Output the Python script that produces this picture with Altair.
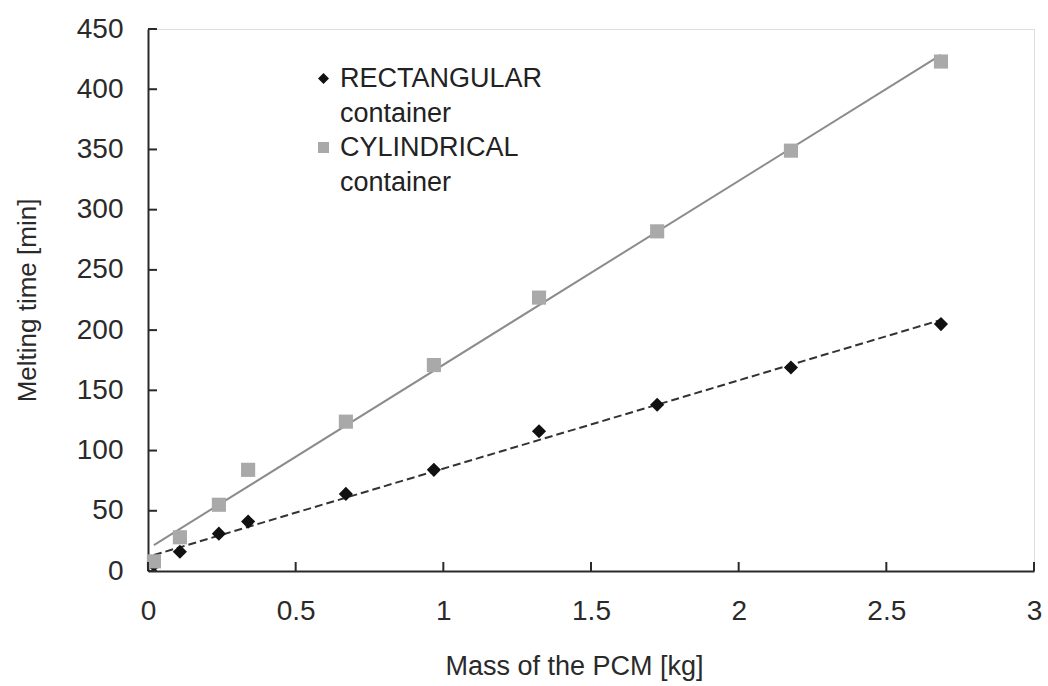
import altair as alt
import pandas as pd

# Measured melting times of the PCM for two container geometries
mass_kg = [0.02, 0.108, 0.24, 0.339, 0.67, 0.968, 1.324, 1.724, 2.177, 2.685]
rect_min = [5, 16, 31, 41, 64, 84, 116, 138, 169, 205]
cyl_min = [8, 28, 55, 84, 124, 171, 227, 282, 349, 423]
series_names = ["RECTANGULAR container", "CYLINDRICAL container"]

x_ticks = [0, 0.5, 1, 1.5, 2, 2.5, 3]
y_ticks = [0, 50, 100, 150, 200, 250, 300, 350, 400, 450]

df = pd.DataFrame({
    "mass": mass_kg + mass_kg,
    "time": rect_min + cyl_min,
    "series": [series_names[0]] * len(mass_kg) + [series_names[1]] * len(mass_kg),
})

W, H = 886, 542
INK = "#2a2a2a"

x_enc = alt.X(
    "mass:Q",
    scale=alt.Scale(domain=[0, 3], nice=False, zero=False),
    axis=alt.Axis(
        values=x_ticks, format="~g", ticks=False, grid=False,
        domainColor=INK, domainWidth=2,
        labelFont="Liberation Sans", labelFontSize=28, labelColor="#2a2a2a",
        labelPadding=26, labelFlush=False,
        title="Mass of the PCM [kg]", titleFont="Liberation Sans", titleFontSize=27,
        titleFontWeight="normal", titleColor="#2a2a2a",
        titleX=426, titleY=95, titleBaseline="middle",
    ),
)
y_enc = alt.Y(
    "time:Q",
    scale=alt.Scale(domain=[0, 450], nice=False),
    axis=alt.Axis(
        values=y_ticks, ticks=False, grid=False,
        domainColor=INK, domainWidth=2,
        labelFont="Liberation Sans", labelFontSize=28, labelColor="#2a2a2a",
        labelPadding=25,
        title="Melting time [min]", titleFont="Liberation Sans", titleFontSize=26,
        titleFontWeight="normal", titleColor="#2a2a2a",
        titleX=-121, titleY=271, titleBaseline="middle", titleAlign="center",
    ),
)

legend = alt.Legend(
    title=None, orient="none", legendX=162, legendY=36, padding=0,
    labelExpr="split(datum.label, ' ')",
    labelFont="Liberation Sans", labelFontSize=27, labelColor="#222",
    labelBaseline="middle", labelOffset=3, labelLimit=400, rowPadding=6,
    symbolOffset=0, symbolStrokeWidth=0, symbolSize=121,
)
series_order = alt.SortArray(series_names)

points = alt.Chart(df).mark_point(filled=True, size=200, opacity=1).encode(
    x=x_enc,
    y=y_enc,
    color=alt.Color("series:N", sort=series_order,
                    scale=alt.Scale(domain=series_names, range=["#111111", "#a9a9a9"]),
                    legend=legend),
    shape=alt.Shape("series:N", sort=series_order,
                    scale=alt.Scale(domain=series_names, range=["diamond", "square"]),
                    legend=legend),
)

# Least-squares trend lines for each container
trend_rect = alt.Chart(df).transform_filter(
    alt.datum.series == series_names[0]
).transform_regression("mass", "time").mark_line(
    color="#333333", strokeWidth=2, strokeDash=[8, 4]
).encode(x=x_enc, y=y_enc)

trend_cyl = alt.Chart(df).transform_filter(
    alt.datum.series == series_names[1]
).transform_regression("mass", "time").mark_line(
    color="#8c8c8c", strokeWidth=2
).encode(x=x_enc, y=y_enc)

# Inward-pointing tick marks
x_tick_marks = alt.Chart(pd.DataFrame({"mass": x_ticks})).mark_rule(
    color=INK, strokeWidth=2
).encode(x=x_enc, y=alt.value(H), y2=alt.value(H - 9))

y_tick_marks = alt.Chart(pd.DataFrame({"time": y_ticks})).mark_rule(
    color=INK, strokeWidth=2
).encode(y=y_enc, x=alt.value(0), x2=alt.value(9))

chart = alt.layer(
    trend_cyl, trend_rect, points, x_tick_marks, y_tick_marks
).properties(
    width=W, height=H,
    padding={"left": 148, "top": 29, "right": 14, "bottom": 115},
    autosize=alt.AutoSizeParams(type="none"),
    background="white",
).configure_view(
    stroke="#dddddd", strokeWidth=1
).configure(
    style={"guide-label": {"lineHeight": 35}}
)

chart.save("out.html", embed_options={"renderer": "svg", "actions": False})
